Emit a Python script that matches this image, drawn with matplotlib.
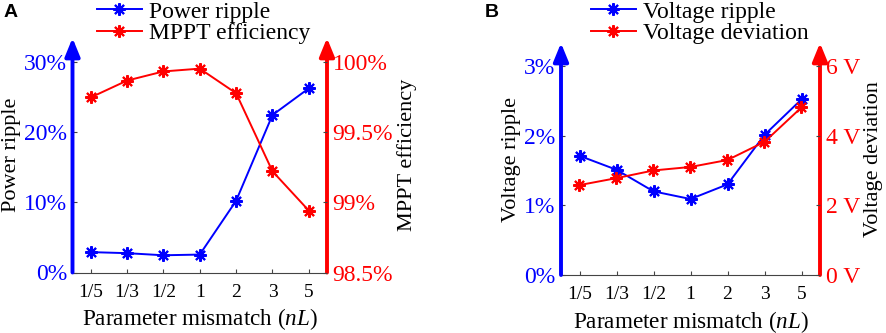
import matplotlib.pyplot as plt

plt.rcParams['font.family'] = ['Liberation Serif', 'DejaVu Serif']
plt.rcParams['mathtext.fontset'] = 'custom'
plt.rcParams['mathtext.it'] = 'Liberation Serif:italic'
plt.rcParams['mathtext.rm'] = 'Liberation Serif'

# shared x categories
categories = ['1/5', '1/3', '1/2', '1', '2', '3', '5']

# panel A
power_ripple = [2.9, 2.75, 2.45, 2.55, 10.2, 22.4, 26.2]        # %
mppt_eff = [99.745, 99.865, 99.93, 99.95, 99.775, 99.22, 98.94]  # %
a_left_ticks = [0, 10, 20, 30]
a_left_labels = ['0%', '10%', '20%', '30%']
a_right_ticks = [98.5, 99.0, 99.5, 100.0]
a_right_labels = ['98.5%', '99%', '99.5%', '100%']

# panel B
voltage_ripple = [1.71, 1.51, 1.20, 1.09, 1.30, 2.01, 2.52]  # %
voltage_dev = [2.58, 2.78, 3.0, 3.1, 3.3, 3.82, 4.81]         # V
b_left_ticks = [0, 1, 2, 3]
b_left_labels = ['0%', '1%', '2%', '3%']
b_right_ticks = [0, 2, 4, 6]
b_right_labels = ['0 V', '2 V', '4 V', '6 V']

BLUE = '#0000ff'
RED = '#ff0000'
W, H = 886, 333
ast = (8, 2, 0)


def make_panel(rect, left, right, lylim, rylim, lt, ltl, rt, rtl,
               lname, rname, letter, letter_xy, leg_xy):
    ax = plt.gcf().add_axes(rect)
    x = list(range(len(categories)))
    l1, = ax.plot(x, left, color=BLUE, lw=1.4, marker=ast, ms=9, mew=1.5)
    ax.set_xlim(-0.5, 6.5)
    ax.set_ylim(*lylim)
    ax.set_xticks(x)
    ax.set_xticklabels(categories, fontsize=14)
    ax.set_yticks(lt)
    ax.set_yticklabels(ltl, fontsize=17, color=BLUE)
    ax.tick_params(axis='both', direction='in', length=3, color='#444444', width=0.8)
    ax.tick_params(axis='x', pad=8)
    ax.tick_params(axis='y', pad=4)
    for s in ['top', 'left', 'right']:
        ax.spines[s].set_visible(False)
    ax.spines['bottom'].set_color('#444444')
    ax.spines['bottom'].set_linewidth(0.8)
    ax.set_xlabel('Parameter mismatch ($nL$)', fontsize=16.7, labelpad=4)
    ax.set_ylabel(lname, fontsize=16, labelpad=2)

    ax2 = ax.twinx()
    l2, = ax2.plot(x, right, color=RED, lw=1.4, marker=ast, ms=9, mew=1.5)
    ax2.set_ylim(*rylim)
    ax2.set_yticks(rt)
    ax2.set_yticklabels(rtl, fontsize=17, color=RED)
    ax2.tick_params(axis='y', direction='in', length=3, color='#444444', width=0.8, pad=4)
    for s in ['top', 'left', 'right', 'bottom']:
        ax2.spines[s].set_visible(False)
    ax2.set_ylabel(rname, fontsize=16, labelpad=3)

    # arrow-headed axes
    ax.annotate('', xy=(0, 1), xytext=(0, 0), xycoords='axes fraction',
                arrowprops=dict(arrowstyle='-|>,head_length=1.1,head_width=0.45',
                                color=BLUE, lw=2.8, shrinkA=0, shrinkB=0),
                annotation_clip=False)
    ax.annotate('', xy=(1, 1), xytext=(1, 0), xycoords='axes fraction',
                arrowprops=dict(arrowstyle='-|>,head_length=1.1,head_width=0.45',
                                color=RED, lw=2.8, shrinkA=0, shrinkB=0),
                annotation_clip=False)

    plt.gcf().legend([l1, l2], [lname, rname], loc='upper left',
                     bbox_to_anchor=leg_xy, frameon=False, fontsize=17,
                     handlelength=1.9, handletextpad=0.3, labelspacing=0.0,
                     borderpad=0, borderaxespad=0)
    plt.gcf().text(letter_xy[0], letter_xy[1], letter, fontsize=14, fontweight='bold',
                   family='Liberation Sans', va='top', ha='left')
    return ax


fig = plt.figure(figsize=(W / 100, H / 100), dpi=100)

# panel A: left axis x=72.5, right 327, bottom y=272.5, arrow tip y=38
make_panel([72.5 / W, (H - 272.5) / H, 254.5 / W, 234.5 / H],
           power_ripple, mppt_eff,
           (0, 234.5 / 7.03), (98.5, 98.5 + 234.5 / 7.03 / 20),
           a_left_ticks, a_left_labels, a_right_ticks, a_right_labels,
           'Power ripple', 'MPPT efficiency', 'A', (4 / W, 1 - 4 / H),
           (97 / W, 1 - 1 / H))

# panel B: left axis x=561, right 820, bottom y=275, arrow tip y=43
make_panel([561 / W, (H - 275) / H, 259 / W, 232 / H],
           voltage_ripple, voltage_dev,
           (0, 232 / 69.7), (0, 2 * 232 / 69.7),
           b_left_ticks, b_left_labels, b_right_ticks, b_right_labels,
           'Voltage ripple', 'Voltage deviation', 'B', (485 / W, 1 - 4 / H),
           (591 / W, 1 - 1 / H))

fig.savefig('out.png', dpi=100)
